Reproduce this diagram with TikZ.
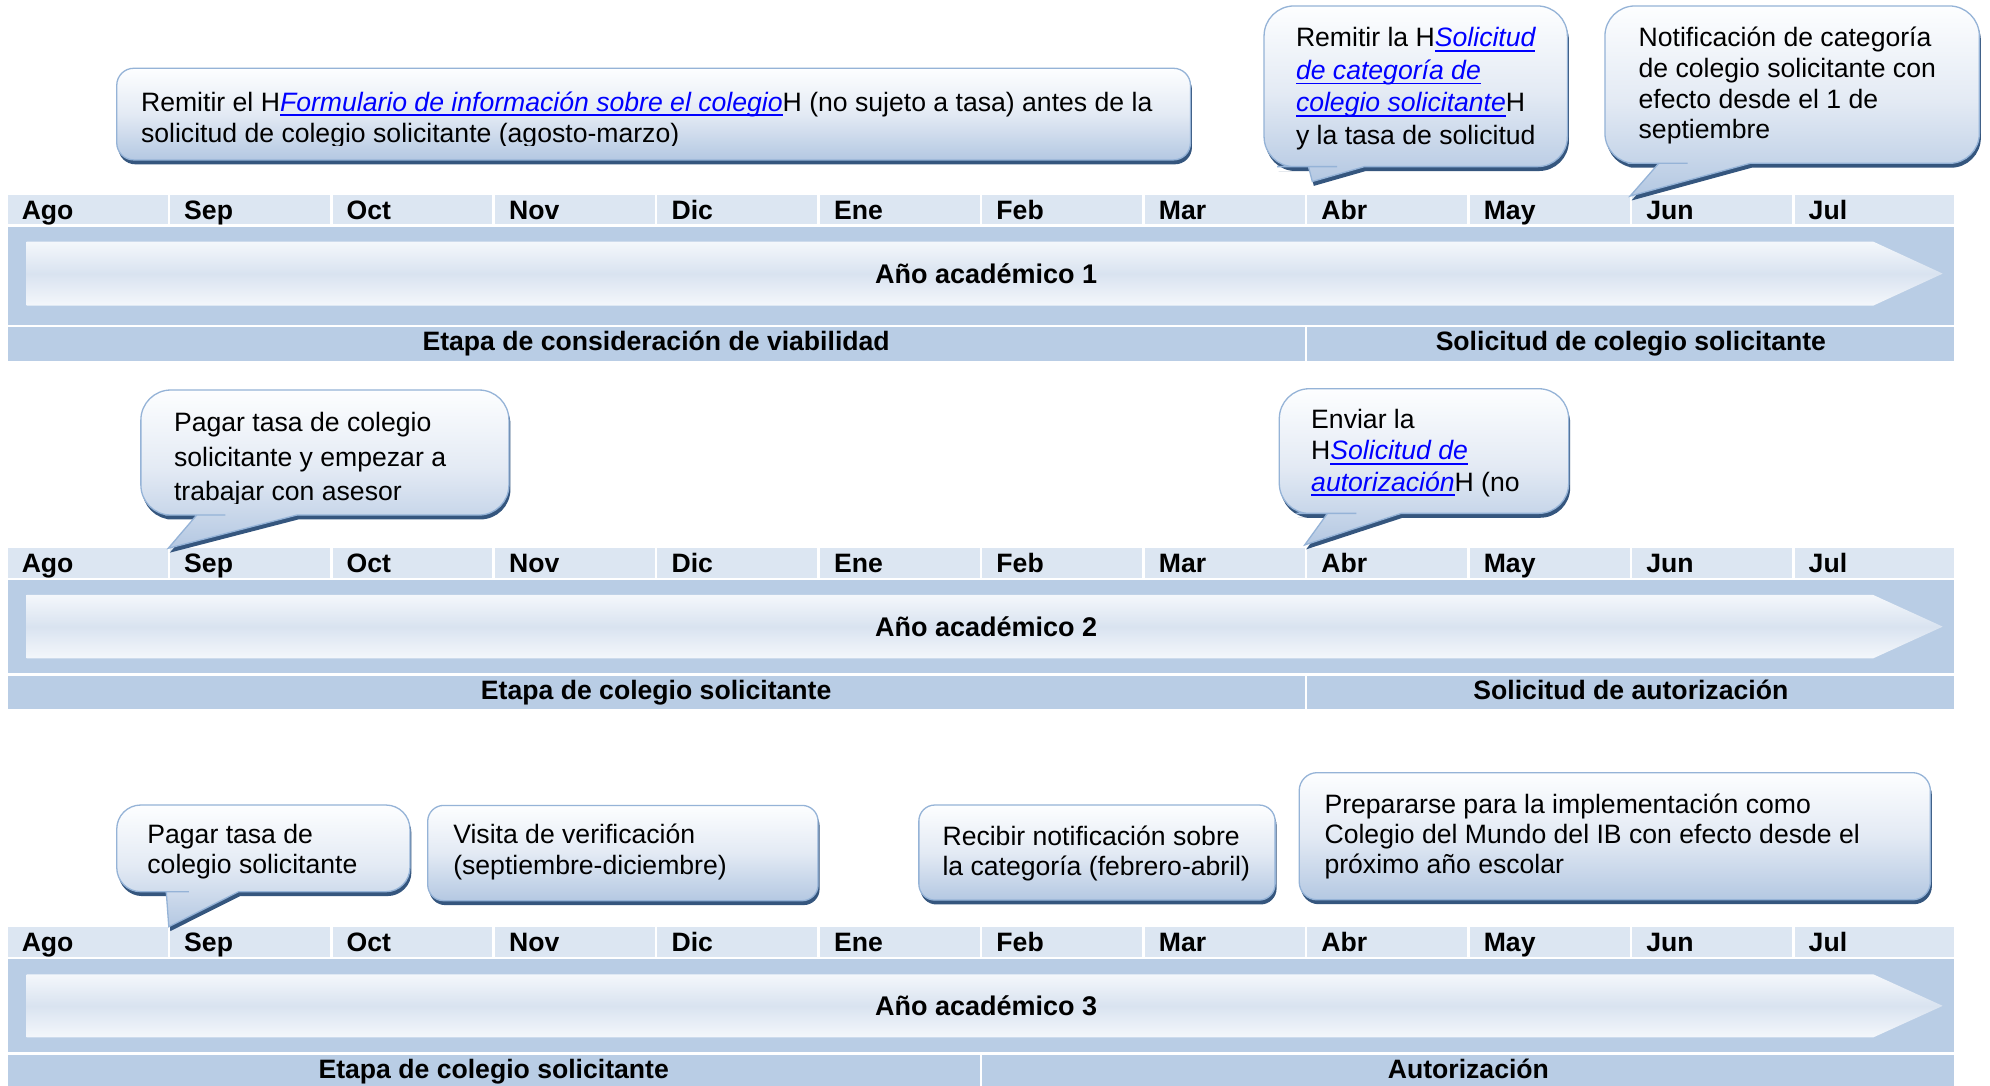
\documentclass[tikz,border=0pt]{standalone}
\usepackage{fontspec}
\setmainfont{Liberation Sans}
\definecolor{monthc}{HTML}{DCE6F2}
\definecolor{bandc}{HTML}{B9CDE5}
\definecolor{arrL}{HTML}{F4F7FB}
\definecolor{arrM}{HTML}{D9E3F0}
\definecolor{ctop}{HTML}{FDFEFF}
\definecolor{cmid}{HTML}{E3EAF4}
\definecolor{cbot}{HTML}{B4C8E2}
\definecolor{cborder}{HTML}{95B3D7}
\definecolor{shadowc}{HTML}{35567E}
\definecolor{lnk}{HTML}{0000FF}
\newsavebox\lnkbox
\newcommand\ulnk[1]{\sbox\lnkbox{\color{lnk}\itshape #1}\rlap{\textcolor{lnk}{\rule[-5bp]{\wd\lnkbox}{1.9bp}}}\usebox\lnkbox}
\tikzset{
  mlabel/.style={anchor=base west, inner sep=0, font=\fontsize{26.6bp}{30bp}\selectfont\bfseries},
  ylabel/.style={anchor=base, inner sep=0, font=\fontsize{27bp}{30bp}\selectfont\bfseries},
  slabel/.style={anchor=base, inner sep=0, font=\fontsize{26.6bp}{30bp}\selectfont\bfseries},
  arrowsh/.style={top color=arrL, bottom color=arrL, middle color=arrM},
  bshadow/.style={fill=shadowc},
  bbody/.style={top color=ctop, bottom color=cbot, middle color=cmid, draw=cborder, line width=1.3bp},
  ctext/.style={anchor=north west, inner sep=0, align=left, text=black},
  cf/.style={font=\fontsize{26.6bp}{#1bp}\selectfont},
}
% year row: #1 month top, #2 band top, #3 band bottom, #4 arrow top, #5 arrow bottom, #6 year number
\newcommand\yrow[6]{%
  \foreach \i/\mn in {0/Ago,1/Sep,2/Oct,3/Nov,4/Dic,5/Ene,6/Feb,7/Mar,8/Abr,9/May,10/Jun,11/Jul}{%
    \fill[monthc] ({6+128*\i},#1) rectangle ({132+128*\i},{#1+23.2});
    \node[mlabel] (m#6-\i) at ({17+128*\i},{#1+19.2}) {\mn};
  }
  \fill[bandc] (6,#2) rectangle (1540,#3);
  \shade[arrowsh] (21,#4) -- (1476,#4) -- (1530.7,{(#4+#5)/2}) -- (1476,#5) -- (21,#5) -- cycle;
  \node[ylabel] (y#6) at (777,{(#4+#5)/2+7.5}) {Año académico #6};
}
% stage bar: #1 top, #2 bottom, #3 split, #4 left label, #5 right label, #6 id
\newcommand\stagebar[6]{%
  \fill[bandc] (6,#1) rectangle (#3,#2);
  \fill[bandc] ({#3+2},#1) rectangle (1540,#2);
  \node[slabel] (sl#6) at ({(6+#3)/2},{#1+18.7}) {#4};
  \node[slabel] (sr#6) at ({(#3+2+1540)/2},{#1+18.7}) {#5};
}
% rectangular callout
\newcommand\cbox[5]{%
  \fill[bshadow, rounded corners=#5, xshift=1.5bp, yshift=-4.4bp] (#1,#2) rectangle (#3,#4);
  \shadedraw[bbody, rounded corners=#5] (#1,#2) rectangle (#3,#4);
}
% callout with tail: x1 y1 x2 y2 tailleft tailright tipx tipy radius
\newcommand\cbubble[9]{%
  \fill[bshadow, xshift=1.5bp, yshift=-4.4bp] ({(#1+#3)/2},#2) [rounded corners=#9] -- (#1,#2) -- (#1,#4) -- ({#5-1},#4) [sharp corners] -- (#5,#4) -- (#7,#8) -- (#6,#4) -- ({#6+1},#4) [rounded corners=#9] -- (#3,#4) -- (#3,#2) -- cycle;
  \shadedraw[bbody] ({(#1+#3)/2},#2) [rounded corners=#9] -- (#1,#2) -- (#1,#4) -- ({#5-1},#4) [sharp corners] -- (#5,#4) -- (#7,#8) -- (#6,#4) -- ({#6+1},#4) [rounded corners=#9] -- (#3,#4) -- (#3,#2) -- cycle;
}
\begin{document}
\begin{tikzpicture}[x=1.2691bp, y=-1.2691bp]
\useasboundingbox (0,0) rectangle (1568,855);
\fill[white] (0,0) rectangle (1568,855);

% ---------- Row 1 ----------
\yrow{153.6}{179}{256}{190.4}{240.8}{1}
\stagebar{257.7}{284.2}{1028}{Etapa de consideración de viabilidad}{Solicitud de colegio solicitante}{1}

\cbox{92}{53.8}{938}{126}{17bp}
\begin{scope}
  \clip (90,40) rectangle (945,{87.5+24.9+2});
  \node[ctext, cf=31.6] (c1) at (111,{87.5-0.7*24.9}) {\strut Remitir el H\ulnk{Formulario de información sobre el colegio}H (no sujeto a tasa) antes de la\\\strut solicitud de colegio solicitante (agosto-marzo)};
\end{scope}

\cbubble{996}{4.7}{1235}{131.3}{1031}{1075}{1034}{143}{30bp}
\node[ctext, cf=32.5] (c2) at (1021,{36.8-0.7*25.6}) {\strut Remitir la H\ulnk{Solicitud}\\\strut\ulnk{de categoría de}\\\strut\ulnk{colegio solicitante}H\\\strut y la tasa de solicitud};

\cbubble{1264.6}{4.7}{1559.6}{128.7}{1307}{1379}{1284.4}{154.5}{30bp}
\node[ctext, cf=30.6] (c3) at (1291,{36.8-0.7*24.1}) {\strut Notificación de categoría\\\strut de colegio solicitante con\\\strut efecto desde el 1 de\\\strut septiembre};

% ---------- Row 2 ----------
\yrow{432}{457}{530.5}{468.8}{518.7}{2}
\stagebar{532.7}{558.4}{1028}{Etapa de colegio solicitante}{Solicitud de autorización}{2}

\cbubble{111}{307.3}{401}{405.8}{155}{234}{132.6}{432}{30bp}
\begin{scope}
  \clip (100,300) rectangle (410,{340.1+2*27.2+2});
  \node[ctext, cf=34.5] (c4) at (137,{340.1-0.7*27.2}) {\strut Pagar tasa de colegio\\\strut solicitante y empezar a\\\strut trabajar con asesor};
\end{scope}

\cbubble{1008}{306.3}{1236}{404.5}{1046}{1104}{1028}{429.4}{30bp}
\node[ctext, cf=31.35] (c5) at (1033,{337.5-0.7*24.7}) {\strut Enviar la\\\strut H\ulnk{Solicitud de}\\\strut\ulnk{autorización}H (no};

% ---------- Row 3 ----------
\yrow{730.7}{755.7}{829.2}{767.7}{817.4}{3}
\stagebar{831.3}{858}{772}{Etapa de colegio solicitante}{Autorización}{3}

\cbubble{92}{634.3}{323}{702.6}{131}{188}{133}{730.2}{24bp}
\node[ctext, cf=30.08] (c6) at (116,{664.5-0.7*23.7}) {\strut Pagar tasa de\\\strut colegio solicitante};

\cbox{337}{634.6}{644.6}{709.7}{16bp}
\node[ctext, cf=30.46] (c7) at (357,{664.5-0.7*24}) {\strut Visita de verificación\\\strut (septiembre-diciembre)};

\cbox{724}{634.3}{1004.7}{709.2}{16bp}
\node[ctext, cf=30.08] (c8) at (742.5,{665.8-0.7*23.7}) {\strut Recibir notificación sobre\\\strut la categoría (febrero-abril)};

\cbox{1023.7}{608.8}{1521}{709}{18bp}
\node[ctext, cf=30.0] (c9) at (1043.5,{640.9-0.7*23.65}) {\strut Prepararse para la implementación como\\\strut Colegio del Mundo del IB con efecto desde el\\\strut próximo año escolar};
\end{tikzpicture}
\end{document}
